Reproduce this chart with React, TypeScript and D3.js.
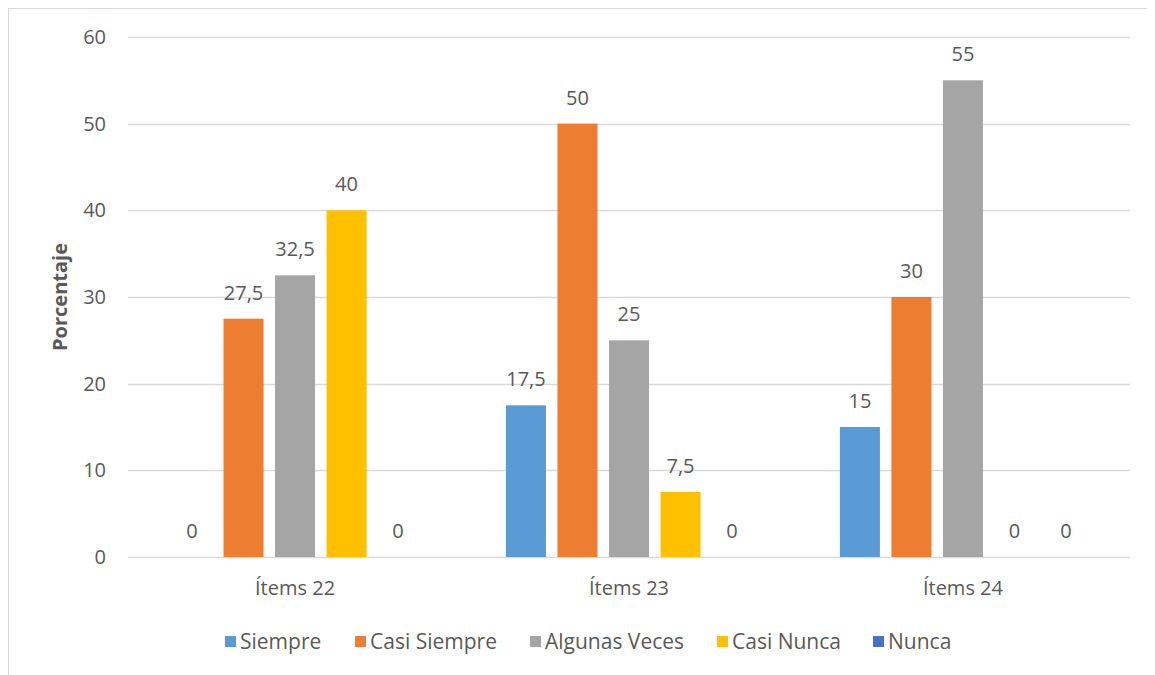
import React from "react";
import * as d3 from "d3";

const categories = ["Ítems 22", "Ítems 23", "Ítems 24"];
const seriesNames = ["Siempre", "Casi Siempre", "Algunas Veces", "Casi Nunca", "Nunca"];
const seriesColors = ["#5b9bd5", "#ed7d31", "#a5a5a5", "#ffc000", "#4472c4"];
const siempre = [0, 17.5, 15];
const casiSiempre = [27.5, 50, 30];
const algunasVeces = [32.5, 25, 55];
const casiNunca = [40, 7.5, 0];
const nunca = [0, 0, 0];
const yTicks = [0, 10, 20, 30, 40, 50, 60];

const seriesValues = [siempre, casiSiempre, algunasVeces, casiNunca, nunca];

const W = 1147;
const H = 667;
const left = 120;
const right = 1122;
const top = 29;
const bottom = 549;
const FONT = "'Open Sans', sans-serif";
const TEXT = "#595959";
const GRID = "#d9d9d9";

const fmt = (v: number) => String(v).replace(".", ",");

export default function App() {
  const x0 = d3
    .scaleBand<string>()
    .domain(categories)
    .range([left, right])
    .paddingInner(0.263)
    .paddingOuter(0.1317);
  const x1 = d3
    .scaleBand<string>()
    .domain(seriesNames)
    .range([0, x0.bandwidth()])
    .paddingInner(0.2233)
    .paddingOuter(0);
  const y = d3.scaleLinear().domain([0, 60]).range([bottom, top]);

  const legendX = [217, 347, 522, 709, 865];

  return (
    <svg width={W} height={H} style={{ display: "block" }} fontFamily={FONT}>
      <rect x={0} y={0} width={W} height={H} fill="#fff" />
      <line x1={0.5} y1={0.5} x2={0.5} y2={H} stroke={GRID} strokeWidth={1} />
      <line x1={0} y1={0.5} x2={W} y2={0.5} stroke={GRID} strokeWidth={1} />

      {yTicks.map((t) => (
        <g key={t}>
          <line x1={left} x2={right} y1={Math.round(y(t)) + 0.5} y2={Math.round(y(t)) + 0.5} stroke={GRID} strokeWidth={1.3} />
          <text x={98} y={y(t)} dy="0.35em" textAnchor="end" fontSize={20} fill={TEXT}>
            {t}
          </text>
        </g>
      ))}

      <text
        transform={`translate(52,${(top + bottom) / 2}) rotate(-90)`}
        dy="0.35em"
        textAnchor="middle"
        fontSize={20}
        fontWeight="bold"
        fill={TEXT}
      >
        Porcentaje
      </text>

      {categories.map((c, ci) => (
        <g key={c} transform={`translate(${x0(c)},0)`}>
          {seriesNames.map((s, si) => {
            const v = seriesValues[si][ci];
            const bx = x1(s)!;
            return (
              <g key={s}>
                {v > 0 && (
                  <rect x={bx} y={y(v)} width={x1.bandwidth()} height={y(0) - y(v)} fill={seriesColors[si]} />
                )}
                <text
                  x={bx + x1.bandwidth() / 2}
                  y={y(v) - 26}
                  dy="0.35em"
                  textAnchor="middle"
                  fontSize={20}
                  fill={TEXT}
                >
                  {fmt(v)}
                </text>
              </g>
            );
          })}
          <text x={x0.bandwidth() / 2} y={580} dy="0.35em" textAnchor="middle" fontSize={20} fill={TEXT}>
            {c}
          </text>
        </g>
      ))}

      {seriesNames.map((s, si) => (
        <g key={s} transform={`translate(${legendX[si]},634)`}>
          <rect x={0} y={-6} width={11} height={11} fill={seriesColors[si]} />
          <text x={15} y={0} dy="0.35em" fontSize={21} fill={TEXT}>
            {s}
          </text>
        </g>
      ))}
    </svg>
  );
}
